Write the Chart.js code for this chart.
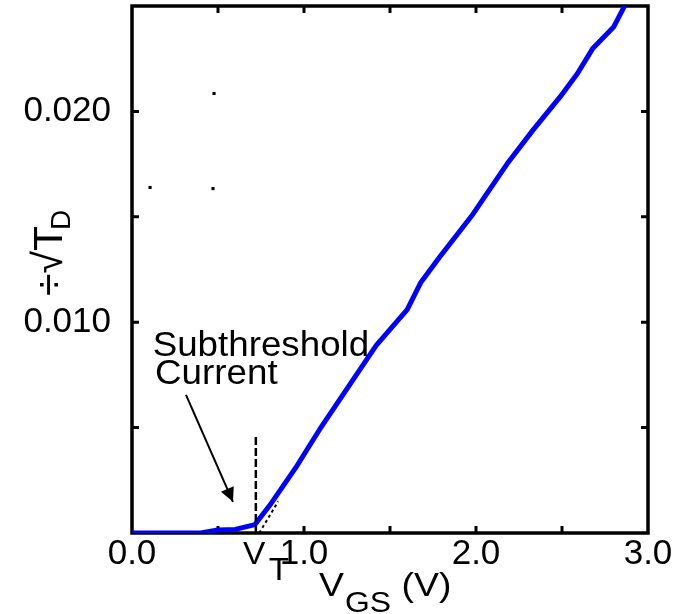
<!DOCTYPE html>
<html><head><meta charset="utf-8">
<script src="https://cdn.jsdelivr.net/npm/chart.js@4/dist/chart.umd.min.js"></script>
<style>html,body{margin:0;padding:0;background:#fff}#wrap{width:683px;height:614px}</style>
</head><body><div id="wrap"><canvas id="c" width="683" height="614"></canvas></div>
<script>
// Main curve: sqrt(I_D) vs V_GS
const vgs    = [0, 0.40, 0.50, 0.60, 0.715, 0.80, 0.96, 1.09, 1.37, 1.42, 1.60, 1.68, 1.79, 1.98, 2.18, 2.33, 2.49, 2.59, 2.68, 2.80, 2.87];
const sqrtId = [0, 0.0000, 0.00014, 0.00017, 0.00040, 0.0013, 0.0032, 0.0049, 0.0083, 0.0089, 0.0106, 0.0119, 0.0131, 0.0151, 0.0175, 0.0191, 0.0207, 0.0218, 0.0230, 0.0240, 0.0251];
// Threshold marker (vertical dashed) and tangent extrapolation (short dashed)
const vtX = [0.72, 0.72];
const vtY = [0, 0.0046];
const tanX = [0.74, 0.85];
const tanY = [0, 0.0015];
// Stray marks in the plot
const markX = [0.105, 0.477, 0.471];
const markY = [0.01639, 0.02085, 0.01634];
// Tick labels
const xTickLabels = ['0.0', '1.0', '2.0', '3.0'];
const yTickLabels = ['0.010', '0.020'];
// Annotation anchors (data units)
const arrowFrom = [0.314, 0.00655];
const arrowTo = [0.587, 0.00148];
const noteText = ['Subthreshold', 'Current'];
const noteAnchor = [[0.12, 0.00838], [0.134, 0.00707]];
const vtLabelX = 0.645;

const FONT = '"Liberation Sans", Arial, Helvetica, sans-serif';
const pts = (xs, ys) => xs.map((x, i) => ({x, y: ys[i]}));

const decor = {
  id: 'decor',
  beforeDatasetsDraw(chart) {
    const {ctx, chartArea: a, scales: {x, y}} = chart;
    ctx.save();
    ctx.strokeStyle = '#000';
    ctx.lineWidth = 3;
    const L = 7;
    x.ticks.forEach(t => {
      if (t.value <= 0.001 || t.value >= 2.999) return;
      const p = x.getPixelForValue(t.value);
      ctx.beginPath();
      ctx.moveTo(p, a.bottom); ctx.lineTo(p, a.bottom - L);
      ctx.moveTo(p, a.top); ctx.lineTo(p, a.top + L);
      ctx.stroke();
    });
    y.ticks.forEach(t => {
      if (t.value <= 1e-6 || t.value >= 0.02499) return;
      const p = y.getPixelForValue(t.value);
      ctx.beginPath();
      ctx.moveTo(a.left, p); ctx.lineTo(a.left + L, p);
      ctx.moveTo(a.right, p); ctx.lineTo(a.right - L, p);
      ctx.stroke();
    });
    ctx.lineWidth = 3.5;
    ctx.strokeRect(a.left, a.top, a.right - a.left, a.bottom - a.top);
    ctx.restore();
  },
  afterDraw(chart) {
    const {ctx, chartArea: a, scales: {x, y}} = chart;
    ctx.save();
    ctx.fillStyle = '#000';
    ctx.strokeStyle = '#000';
    ctx.textAlign = 'left';
    ctx.textBaseline = 'alphabetic';
    // annotation text
    noteText.forEach((s, i) => {
      const px = x.getPixelForValue(noteAnchor[i][0]);
      const py = y.getPixelForValue(noteAnchor[i][1]);
      ctx.save();
      ctx.translate(px, py); ctx.scale(1.05, 1);
      ctx.font = '35px ' + FONT;
      ctx.fillText(s, 0, 0);
      ctx.restore();
    });
    // arrow
    const x0 = x.getPixelForValue(arrowFrom[0]), y0 = y.getPixelForValue(arrowFrom[1]);
    const x1 = x.getPixelForValue(arrowTo[0]), y1 = y.getPixelForValue(arrowTo[1]);
    ctx.lineWidth = 2;
    ctx.beginPath(); ctx.moveTo(x0, y0); ctx.lineTo(x1, y1); ctx.stroke();
    const ang = Math.atan2(y1 - y0, x1 - x0);
    const hl = 14, hw = 7;
    ctx.beginPath();
    ctx.moveTo(x1, y1);
    ctx.lineTo(x1 - hl * Math.cos(ang) + hw * Math.sin(ang), y1 - hl * Math.sin(ang) - hw * Math.cos(ang));
    ctx.lineTo(x1 - hl * Math.cos(ang) - hw * Math.sin(ang), y1 - hl * Math.sin(ang) + hw * Math.cos(ang));
    ctx.closePath(); ctx.fill();
    // V_T label
    const vx = x.getPixelForValue(vtLabelX);
    ctx.save();
    ctx.translate(vx, a.bottom + 31); ctx.scale(1.08, 1);
    ctx.font = '31px ' + FONT;
    ctx.fillText('V', 0, 0);
    ctx.fillText('T', 24, 16);
    ctx.restore();
    // x-axis title
    const cx = (a.left + a.right) / 2;
    ctx.save();
    ctx.translate(cx - 71, a.bottom + 63); ctx.scale(1.1, 1);
    ctx.font = '34px ' + FONT;
    ctx.fillText('V', 0, 0);
    let w = ctx.measureText('V').width;
    ctx.font = '29px ' + FONT;
    ctx.fillText('GS', w + 1, 16);
    w += 1 + ctx.measureText('GS').width;
    ctx.font = '34px ' + FONT;
    ctx.fillText(' (V)', w, 0);
    ctx.restore();
    // y-axis title
    ctx.save();
    ctx.translate(a.left - 70, a.top + 290);
    ctx.rotate(-Math.PI / 2);
    ctx.font = '41px ' + FONT;
    ctx.fillText('\u00F7\u221AT', 0, 0);
    const tw = ctx.measureText('\u00F7\u221AT').width;
    ctx.font = '28px ' + FONT;
    ctx.fillText('D', tw - 4, 8);
    ctx.restore();
    ctx.restore();
  }
};

new Chart(document.getElementById('c'), {
  type: 'scatter',
  data: {
    datasets: [
      { label: 'sqrt(ID)', data: pts(vgs, sqrtId), showLine: true, borderColor: '#0000ff', borderWidth: 5,
        pointRadius: 0, borderJoinStyle: 'round', borderCapStyle: 'round', order: 2 },
      { label: 'VT', data: pts(vtX, vtY), showLine: true, borderColor: '#000', borderWidth: 2.5,
        borderDash: [8, 3], pointRadius: 0, order: 1 },
      { label: 'tangent', data: pts(tanX, tanY), showLine: true, borderColor: '#000', borderWidth: 2,
        borderDash: [3, 3], pointRadius: 0, order: 1 },
      { label: 'marks', data: pts(markX, markY), showLine: false, pointStyle: 'rect', pointRadius: 2.2,
        backgroundColor: '#000', borderWidth: 0, order: 1 }
    ]
  },
  options: {
    responsive: false, animation: false, devicePixelRatio: 1,
    layout: { padding: { top: 6, right: 35, left: 0, bottom: 0 } },
    plugins: { legend: { display: false }, tooltip: { enabled: false } },
    scales: {
      x: {
        type: 'linear', min: 0, max: 3,
        grid: { display: false, drawTicks: false }, border: { display: false },
        ticks: { stepSize: 0.5, autoSkip: false, maxRotation: 0, padding: 0, color: '#000',
          font: { size: 35, family: FONT },
          callback: v => xTickLabels.find(s => Math.abs(parseFloat(s) - v) < 1e-6) || '' },
        afterFit: s => { s.height = 81; s.paddingLeft = 0; s.paddingRight = 0; s.paddingTop = 0; s.paddingBottom = 0; }
      },
      y: {
        type: 'linear', min: 0, max: 0.025,
        grid: { display: false, drawTicks: false }, border: { display: false },
        ticks: { stepSize: 0.005, autoSkip: false, padding: 21, color: '#000',
          font: { size: 35, family: FONT },
          callback: v => yTickLabels.find(s => Math.abs(parseFloat(s) - v) < 1e-7) || '' },
        afterFit: s => { s.width = 132; s.paddingLeft = 0; s.paddingRight = 0; s.paddingTop = 0; s.paddingBottom = 0; }
      }
    }
  },
  plugins: [decor]
});
</script>
</body></html>
